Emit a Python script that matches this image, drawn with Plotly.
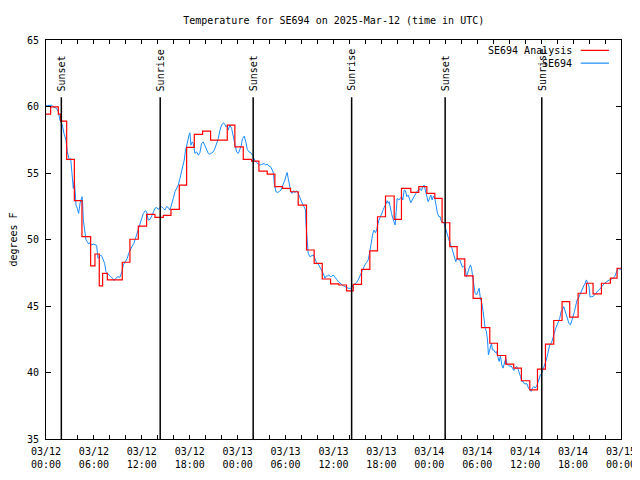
import plotly.graph_objects as go

# ---- data (hours after 2025-03-12 00:00 UTC) ----
tick_hours = [0, 6, 12, 18, 24, 30, 36, 42, 48, 54, 60, 66, 72]
tick_labels = ["03/12<br>00:00", "03/12<br>06:00", "03/12<br>12:00", "03/12<br>18:00",
               "03/13<br>00:00", "03/13<br>06:00", "03/13<br>12:00", "03/13<br>18:00",
               "03/14<br>00:00", "03/14<br>06:00", "03/14<br>12:00", "03/14<br>18:00",
               "03/15<br>00:00"]

analysis_hours = [0, 0.58, 1.54, 1.84, 2.59, 3.55, 4.5, 5.59, 6.13, 6.67, 7.09, 7.68, 9.55,
                  10.51, 11.56, 12.6, 13.64, 14.69, 15.65, 16.69, 17.61, 18.57, 19.61, 20.61,
                  22.70, 23.65, 24.70, 25.74, 26.66, 27.70, 28.66, 29.62, 30.62, 31.58, 32.62,
                  33.58, 34.59, 35.63, 36.67, 37.63, 38.47, 39.51, 40.55, 41.51, 42.51, 43.60,
                  44.51, 45.68, 46.68, 47.69, 48.69, 49.60, 50.56, 51.48, 52.44, 53.48, 54.53,
                  55.57, 56.53, 57.57, 58.57, 59.53, 60.58, 61.54, 62.54, 63.58, 64.62, 65.58,
                  66.63, 67.67, 68.50, 69.55, 70.67, 71.51, 72.0]
analysis_temps = [59.42, 59.97, 59.42, 58.9, 56.02, 52.92, 50.21, 48.01, 48.91, 46.51, 47.46,
                  46.96, 48.29, 50.02, 51.01, 51.89, 51.66, 51.81, 52.26, 54.09, 56.92, 57.90,
                  58.15, 57.47, 58.60, 56.97, 56.02, 55.89, 55.14, 54.92, 53.97, 53.84, 53.59,
                  52.59, 49.21, 48.21, 47.03, 46.66, 46.58, 46.13, 46.63, 47.76, 49.14, 51.71,
                  53.27, 51.51, 53.84, 53.54, 53.97, 53.47, 53.09, 51.26, 49.46, 48.54, 47.26,
                  45.58, 43.38, 42.20, 41.28, 40.63, 40.33, 39.38, 38.70, 40.25, 42.13, 43.91,
                  45.33, 44.16, 45.96, 46.71, 45.91, 46.71, 47.09, 47.84, 47.84]

obs_hours = [0.0, 0.50, 0.71, 0.92, 1.34, 1.54, 1.75, 1.96, 2.09, 2.25, 2.50, 2.67, 2.80, 2.92,
             3.09, 3.21, 3.34, 3.42, 3.55, 3.67, 3.76, 3.92, 4.09, 4.26, 4.42, 4.51, 4.59, 4.67,
             4.84, 5.01, 5.17, 5.34, 5.51, 5.72, 5.92, 6.13, 6.34, 6.51, 6.68, 6.84, 7.01, 7.18,
             7.34, 7.51, 7.68, 7.84, 8.09, 8.34, 8.51, 8.76, 9.01, 9.26, 9.51, 9.68, 9.93, 10.18,
             10.35, 10.51, 10.76, 11.01, 11.26, 11.43, 11.60, 11.77, 11.93, 12.18, 12.43,
             12.60, 12.81, 13.02, 13.23, 13.43, 13.64, 13.85, 14.06, 14.27, 14.48, 14.69, 14.89,
             15.10, 15.31, 15.52, 15.73, 15.94, 16.15, 16.35, 16.56, 16.77, 16.98, 17.19, 17.31,
             17.44, 17.61, 17.77, 17.94, 18.02, 18.15, 18.32, 18.44, 18.65, 18.86, 19.07, 19.27,
             19.48, 19.69, 19.90, 20.11, 20.32, 20.53, 20.73, 20.94, 21.15, 21.36, 21.57, 21.78,
             21.99, 22.20, 22.40, 22.53, 22.70, 22.82, 23.03, 23.24, 23.45, 23.65, 23.86, 24.07,
             24.28, 24.41, 24.61, 24.82, 25.03, 25.20, 25.41, 25.66, 25.87,
             26.16, 26.37, 26.57, 26.78, 26.99, 27.20, 27.33, 27.49, 27.70, 27.91, 28.12, 28.33,
             28.49, 28.58, 28.79, 28.99, 29.20, 29.41, 29.58, 29.75, 29.91, 30.08, 30.20, 30.33,
             30.50, 30.66, 30.83, 31.00, 31.16, 31.37, 31.58, 31.79, 32.00, 32.21, 32.33, 32.50,
             32.54, 32.62, 32.71, 32.83, 33.04, 33.25, 33.46, 33.67, 33.88, 34.08, 34.29, 34.50,
             34.71, 34.92, 35.09, 35.25, 35.42, 35.59, 35.75, 35.96, 36.17, 36.38, 36.59, 36.80,
             37.00, 37.21, 37.42, 37.63, 37.84, 38.05,
             38.26, 38.47, 38.67, 38.88, 39.09, 39.30, 39.51, 39.72, 39.93, 40.13, 40.34, 40.47,
             40.59, 40.76, 40.93, 41.09, 41.26, 41.39, 41.51, 41.68, 41.84, 42.01, 42.18, 42.35,
             42.47, 42.60, 42.72, 42.85, 42.97, 43.10, 43.26, 43.43, 43.60, 43.72, 43.85, 43.97,
             44.18, 44.35, 44.51, 44.68, 44.85, 45.01, 45.18, 45.35, 45.52, 45.68, 45.85, 46.02,
             46.18, 46.35, 46.52, 46.68, 46.85, 47.02, 47.18, 47.35, 47.52, 47.69, 47.85, 48.02,
             48.19, 48.35, 48.52, 48.69, 48.85, 49.02, 49.19, 49.35, 49.52, 49.69, 49.85, 50.02,
             50.19, 50.36, 50.52,
             50.77, 50.98, 51.19, 51.31, 51.48, 51.65, 51.82, 51.98, 52.15, 52.32, 52.48, 52.65,
             52.82, 52.98, 53.15, 53.28, 53.40, 53.48, 53.61, 53.73, 53.90, 54.07, 54.24, 54.36,
             54.49, 54.61, 54.74, 54.86, 54.99, 55.15, 55.28, 55.40, 55.53, 55.65, 55.78, 55.90,
             56.07, 56.24, 56.40, 56.57, 56.74, 56.90, 57.07, 57.24, 57.41, 57.57, 57.74, 57.91,
             58.07, 58.24, 58.41, 58.57, 58.74, 58.91, 59.07, 59.24, 59.41, 59.58, 59.74, 59.91,
             60.08, 60.24, 60.41, 60.58, 60.74, 60.91, 61.08, 61.24, 61.41, 61.58, 61.74, 61.91,
             62.08, 62.24, 62.41, 62.58, 62.75, 62.91, 63.08,
             63.29, 63.50, 63.66, 63.83, 64.00, 64.16, 64.33, 64.50, 64.66, 64.83, 65.00, 65.16,
             65.33, 65.50, 65.67, 65.83, 66.00, 66.17, 66.33, 66.50, 66.67, 66.83, 67.00, 67.17,
             67.33, 67.50, 67.67, 67.83, 68.00, 68.13, 68.29, 68.50, 68.71, 68.92, 69.13, 69.34,
             69.55, 69.75, 69.96, 70.17, 70.38, 70.59, 70.80, 71.01, 71.21, 71.42, 71.63, 71.84,
             72.0]
obs_temps = [60.05, 60.05, 60.1, 59.97, 59.85, 59.6, 58.97, 58.72, 58.47, 57.97, 57.47, 56.59,
             56.09, 55.97, 56.09, 55.22, 54.09, 53.84, 54.47, 53.72, 52.59, 52.34, 51.96, 52.72,
             52.97, 53.22, 52.72, 51.46, 50.71, 49.96, 49.84, 49.66, 49.76, 49.59, 49.66, 49.59,
             49.56, 48.59, 48.71, 48.84, 48.71, 48.46, 48.21, 47.59, 47.46, 47.34, 47.21, 47.09,
             46.91, 47.09, 47.21, 47.16, 47.59, 48.09, 48.34, 48.59, 48.96, 49.21, 49.46, 49.71,
             50.21, 50.59, 50.96, 51.21, 51.59, 51.96, 52.16,
             52.09, 51.46, 51.51, 51.76, 52.09, 52.34, 52.41, 52.26, 52.41, 52.47, 52.34, 52.21,
             52.47, 52.41, 52.21, 52.59, 53.09, 53.59, 53.79, 54.09, 54.59, 55.09, 55.47, 55.97,
             56.59, 57.22, 57.47, 57.92, 58.02, 57.09, 57.34, 57.22, 56.47, 56.59, 56.34, 56.52,
             57.22, 57.34, 57.09, 56.72, 56.47, 56.42, 56.52, 56.59, 56.84, 57.22, 57.59, 58.22,
             58.60, 58.77, 58.67, 58.47, 58.55, 58.22, 58.60, 58.35, 57.72, 57.09, 56.59, 56.47,
             56.77, 56.97, 57.59, 57.77, 57.34, 56.77, 56.59, 56.52, 56.34,
             55.92, 55.77, 55.67, 55.59, 55.64, 55.67, 55.72, 55.59, 55.67, 55.52, 55.47, 55.22,
             54.97, 54.22, 53.59, 53.54, 53.59, 53.72, 53.97, 54.09, 54.47, 54.84, 55.04, 54.59,
             54.09, 53.59, 53.47, 53.67, 53.52, 53.67, 53.47, 53.09, 52.84, 52.59, 52.47, 52.22,
             51.34, 50.84, 50.09, 48.96, 48.71, 48.76, 48.84, 48.59, 48.26, 48.16, 47.96, 47.71,
             47.46, 47.09, 47.26, 47.26, 47.34, 47.21, 47.21, 47.34, 47.21, 47.01, 46.83, 46.71,
             46.58, 46.53, 46.46, 46.38, 46.33, 46.33,
             46.33, 46.58, 46.66, 46.76, 46.96, 47.26, 47.59, 47.84, 48.09, 48.26, 48.46, 48.84,
             49.34, 49.84, 50.46, 50.71, 50.51, 50.71, 51.09, 51.46, 51.64, 51.97, 52.17, 52.42,
             52.52, 52.72, 52.92, 52.72, 52.84, 52.34, 51.97, 51.59, 51.34, 51.09, 52.09, 53.09,
             52.97, 53.09, 53.22, 52.97, 53.72, 53.67, 53.22, 53.34, 52.97, 52.77, 52.97, 53.17,
             53.34, 53.47, 53.67, 53.72, 53.84, 53.67, 53.97, 54.09, 53.72, 53.34, 52.84, 53.09,
             53.34, 52.97, 53.27, 53.09, 52.47, 51.97, 51.72, 51.72, 51.34, 51.34, 51.21, 50.84,
             50.46, 50.09, 49.84,
             49.46, 49.09, 48.71, 48.34, 48.59, 48.46, 48.46, 48.09, 47.91, 48.01, 47.84, 47.21,
             47.59, 47.84, 48.09, 47.84, 47.34, 46.96, 46.71, 45.96, 45.83, 46.08, 46.33, 45.71,
             45.46, 45.08, 44.58, 43.96, 43.33, 43.08, 42.45, 41.33, 41.70, 41.83, 42.20, 41.70,
             41.70, 41.50, 41.58, 41.20, 40.83, 41.25, 40.58, 40.33, 40.83, 41.08, 40.58, 40.58,
             40.45, 40.50, 40.33, 40.15, 40.33, 40.45, 40.33, 40.08, 39.70, 39.33, 39.33, 39.15,
             39.15, 39.15, 38.83, 38.70, 38.58, 38.83, 38.95, 38.83, 38.95, 39.20, 39.58, 39.83,
             39.95, 40.20, 40.45, 40.83, 41.20, 41.58, 42.08,
             42.22, 42.58, 42.96, 43.33, 43.58, 43.83, 44.08, 44.58, 44.71, 44.96, 44.58, 44.21,
             43.96, 43.66, 43.58, 43.83, 44.21, 44.58, 45.08, 45.46, 45.58, 45.83, 46.08, 46.33,
             46.51, 46.71, 46.96, 46.71, 46.46, 45.66, 45.71, 45.71, 45.88, 46.01, 46.16, 46.26,
             46.46, 46.58, 46.71, 46.83, 46.91, 46.96, 47.01, 47.09, 47.21, 47.59, 47.84, 47.76,
             47.71]

sun_hours = [1.92, 14.30, 25.94, 38.27, 49.98, 62.08]
sun_labels = ["Sunset", "Sunrise", "Sunset", "Sunrise", "Sunset", "Sunrise"]

FONT = "DejaVu Sans Mono"
RED = "#ff0000"
BLUE = "#1a8cff"

fig = go.Figure()
fig.add_trace(go.Scatter(x=obs_hours, y=obs_temps, mode="lines",
                         line=dict(color=BLUE, width=1.0), name="SE694"))
fig.add_trace(go.Scatter(x=analysis_hours, y=analysis_temps, mode="lines",
                         line=dict(color=RED, width=1.2, shape="hv"),
                         name="SE694 Analysis"))

for h, lab in zip(sun_hours, sun_labels):
    fig.add_shape(type="line", x0=h, x1=h, y0=35, y1=60.7, xref="x", yref="y",
                  line=dict(color="black", width=1.5), layer="above")
    fig.add_annotation(x=h, y=61.0, xref="x", yref="y", text=lab, textangle=-90,
                       showarrow=False, xanchor="center", yanchor="bottom",
                       font=dict(family=FONT, size=10, color="black"))

# legend drawn gnuplot-style (text then sample line)
legend_rows = [("SE694 Analysis", RED, 0.974), ("SE694", BLUE, 0.942)]
for txt, col, yy in legend_rows:
    fig.add_annotation(x=0.918, y=yy, xref="paper", yref="paper", text=txt,
                       showarrow=False, xanchor="right", yanchor="middle",
                       font=dict(family=FONT, size=10, color="black"))
    fig.add_shape(type="line", x0=0.930, x1=0.979, y0=yy, y1=yy,
                  xref="paper", yref="paper", line=dict(color=col, width=1.2))

# page body adds an 8px margin, so the figure is 632x472 and margins are offset
fig.update_layout(
    width=632, height=472,
    margin=dict(l=38, r=19, t=32, b=41, autoexpand=False),
    paper_bgcolor="white", plot_bgcolor="white",
    showlegend=False,
    font=dict(family=FONT, size=10, color="black"),
    title=dict(text="Temperature for SE694 on 2025-Mar-12 (time in UTC)",
               x=0.5154, xanchor="center", xref="container",
               y=1 - 12 / 472, yanchor="middle", yref="container",
               font=dict(family=FONT, size=10, color="black")),
)
fig.update_xaxes(range=[0, 72], tickmode="array", tickvals=tick_hours, ticktext=tick_labels,
                 automargin=False, ticklabelstandoff=3,
                 ticks="inside", ticklen=4, tickcolor="black", showgrid=False, zeroline=False,
                 showline=True, linecolor="black", linewidth=1, mirror="ticks",
                 minor=dict(tickmode="linear", tick0=0, dtick=2, ticks="inside", ticklen=4,
                            tickcolor="black", showgrid=False))
fig.update_yaxes(range=[35, 65], tickmode="linear", tick0=35, dtick=5, automargin=False,
                 ticklabelstandoff=4,
                 ticks="inside", ticklen=5, tickcolor="black", showgrid=False, zeroline=False,
                 showline=True, linecolor="black", linewidth=1, mirror="ticks",
                 title=dict(text="degrees F", standoff=12, font=dict(family=FONT, size=10)))

fig.write_html("out.html")
